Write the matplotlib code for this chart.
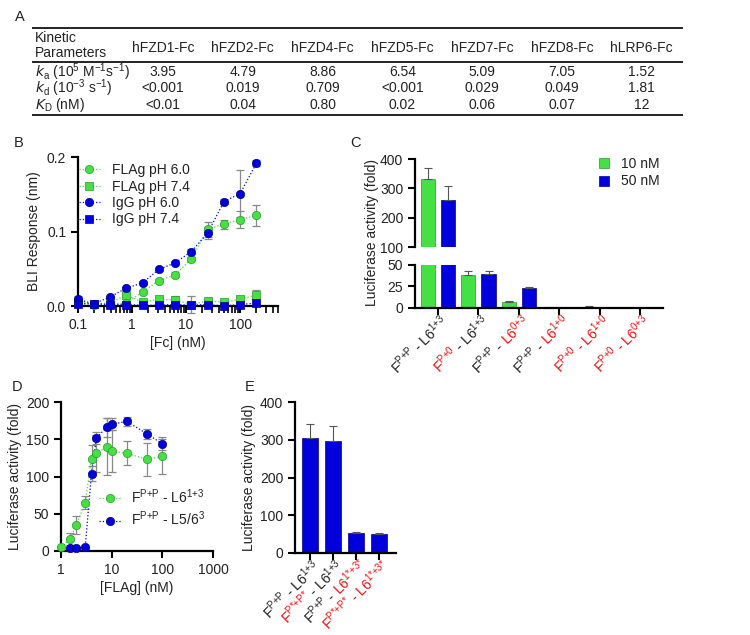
import numpy as np
import matplotlib
matplotlib.use('Agg')
import matplotlib.pyplot as plt
from matplotlib import transforms
from matplotlib.lines import Line2D
from matplotlib.patches import Patch

plt.rcParams['font.family'] = ['Liberation Sans', 'DejaVu Sans']
plt.rcParams['mathtext.default'] = 'regular'
plt.rcParams['font.size'] = 10
plt.rcParams['text.color'] = '#222222'
plt.rcParams['axes.labelcolor'] = '#222222'
plt.rcParams['xtick.color'] = 'black'
plt.rcParams['ytick.color'] = 'black'
plt.rcParams['xtick.labelcolor'] = '#222222'
plt.rcParams['ytick.labelcolor'] = '#222222'
plt.rcParams['axes.linewidth'] = 1.6

GREEN = '#44e044'
GREEN_EDGE = '#2a9a2a'
BLUE = '#0000dd'
BLUE_EDGE = '#000088'
RED = '#ee1111'
BLACK = '#222222'

# ---- panel A: kinetic table ----
table_cols = ['hFZD1-Fc', 'hFZD2-Fc', 'hFZD4-Fc', 'hFZD5-Fc', 'hFZD7-Fc', 'hFZD8-Fc', 'hLRP6-Fc']
row_labels = [r'$\mathit{k}_{a}$ (10$^{5}$ M$^{-1}$s$^{-1}$)',
              r'$\mathit{k}_{d}$ (10$^{-3}$ s$^{-1}$)',
              r'$\mathit{K}_{D}$ (nM)']
ka_vals = ['3.95', '4.79', '8.86', '6.54', '5.09', '7.05', '1.52']
kd_vals = ['<0.001', '0.019', '0.709', '<0.001', '0.029', '0.049', '1.81']
KD_vals = ['<0.01', '0.04', '0.80', '0.02', '0.06', '0.07', '12']

# ---- panel B: BLI response ----
fc_nm = [0.098, 0.195, 0.39, 0.78, 1.56, 3.13, 6.25, 12.5, 25, 50, 100, 200]
flag_ph60 = [0.004, 0.002, 0.003, 0.004, 0.019, 0.034, 0.042, 0.063, 0.103, 0.110, 0.116, 0.122]
flag_ph60_err = [0.002, 0.001, 0.002, 0.002, 0.002, 0.002, 0.003, 0.003, 0.010, 0.006, 0.011, 0.014]
flag_ph74 = [0.006, 0.003, 0.004, 0.015, 0.005, 0.009, 0.008, 0.002, 0.007, 0.005, 0.009, 0.015]
flag_ph74_err = [0.006, 0.001, 0.002, 0.003, 0.002, 0.002, 0.005, 0.012, 0.003, 0.002, 0.004, 0.007]
igg_ph60 = [0.009, 0.003, 0.012, 0.024, 0.031, 0.049, 0.058, 0.073, 0.098, 0.140, 0.151, 0.192]
igg_ph60_err = [0.004, 0.001, 0.002, 0.002, 0.002, 0.002, 0.002, 0.003, 0.008, 0.003, 0.031, 0.004]
igg_ph74 = [0.003, 0.003, 0.002, 0.002, 0.001, 0.001, 0.002, 0.001, 0.002, 0.000, 0.002, 0.004]

# ---- panel C: luciferase, broken axis ----
c_labels = [
    [(r'F$^{P{+}P}$ - L6$^{1{+}3}$', BLACK)],
    [(r'F$^{P{+}0}$', RED), (r' - L6$^{1{+}3}$', BLACK)],
    [(r'F$^{P{+}P}$ - ', BLACK), (r'L6$^{0{+}3}$', RED)],
    [(r'F$^{P{+}P}$ - ', BLACK), (r'L6$^{1{+}0}$', RED)],
    [(r'F$^{P{+}0}$ - L6$^{1{+}0}$', RED)],
    [(r'F$^{P{+}0}$ - L6$^{0{+}3}$', RED)],
]
c_10nm = [333, 38, 7, 0.5, 1.5, 0.3]
c_10nm_err = [35, 5, 1.2, 0.2, 0.4, 0.1]
c_50nm = [260, 39, 23, 0.3, 0.4, 0.2]
c_50nm_err = [47, 4.5, 1.5, 0.1, 0.1, 0.1]

# ---- panel D: dose response ----
d_x_l6 = [1, 1.5, 2, 3, 4, 5, 8, 10, 20, 50, 100]
d_l6 = [5, 16, 35, 65, 124, 131, 140, 134, 131, 123, 127]
d_l6_err = [1, 8, 12, 9, 18, 25, 38, 28, 16, 22, 23]
d_x_l56 = [1.5, 2, 3, 4, 5, 8, 10, 20, 50, 100]
d_l56 = [4, 4, 5, 104, 152, 166, 170, 174, 157, 144]
d_l56_err = [1, 1, 1, 10, 8, 13, 8, 6, 7, 9]

# ---- panel E ----
e_labels = [
    [(r'F$^{P{+}P}$ - L6$^{1{+}3}$', BLACK)],
    [(r'F$^{P{*}{+}P{*}}$', RED), (r' - L6$^{1{+}3}$', BLACK)],
    [(r'F$^{P{+}P}$ - ', BLACK), (r'L6$^{1{*}{+}3{*}}$', RED)],
    [(r'F$^{P{*}{+}P{*}}$ - L6$^{1{*}{+}3{*}}$', RED)],
]
e_vals = [305, 298, 53, 51]
e_err = [36, 39, 2, 2]

W, H = 750, 635
fig = plt.figure(figsize=(7.5, 6.35), dpi=100)


def fx(x):
    return x / W


def fy(y):
    return 1 - y / H


def px_axes(left, top, right, bottom):
    return fig.add_axes([fx(left), fy(bottom), (right - left) / W, (bottom - top) / H])


def prism_style(ax, bottom=True):
    for s in ['top', 'right']:
        ax.spines[s].set_visible(False)
    if not bottom:
        ax.spines['bottom'].set_visible(False)
        ax.tick_params(axis='x', bottom=False, labelbottom=False)
    ax.tick_params(which='both', direction='out', width=1.5, length=5)
    ax.tick_params(which='minor', width=1.2)


def text_width(s, size):
    r = fig.canvas.get_renderer()
    t = fig.text(0, 0, s + '|', fontsize=size)
    w = t.get_window_extent(r).width
    t.remove()
    t = fig.text(0, 0, '|', fontsize=size)
    w -= t.get_window_extent(r).width
    t.remove()
    return w


def colored_label(ax, xpos, pieces, dx=12, dy=-15, size=10):
    # rotated multi-colour tick label, right end anchored near the tick
    c = np.cos(np.deg2rad(45))
    full = ''.join(p for p, _ in pieces)
    total = text_width(full, size)
    start = 0.0
    for p, col in pieces:
        off = start - total
        tr = ax.get_xaxis_transform() + transforms.ScaledTranslation(
            (off * c + dx) / fig.dpi, (off * c + dy) / fig.dpi, fig.dpi_scale_trans)
        ax.text(xpos, 0, p, color=col, fontsize=size, rotation=45,
                rotation_mode='anchor', ha='left', va='baseline', transform=tr,
                clip_on=False)
        start += text_width(p, size)


# ---- A ----
fig.text(fx(15), fy(17), 'A', fontsize=10.5, ha='left', va='center')
for y in [28, 62, 115]:
    fig.add_artist(Line2D([fx(33), fx(682)], [fy(y), fy(y)], transform=fig.transFigure,
                          color=BLACK, lw=1.4))
fig.text(fx(35), fy(38), 'Kinetic', ha='left', va='center')
fig.text(fx(35), fy(53), 'Parameters', ha='left', va='center')
col_x = [163 + 79.8 * i for i in range(len(table_cols))]
for cx, name in zip(col_x, table_cols):
    fig.text(fx(cx), fy(48), name, ha='center', va='center')
for ry, lab, vals in zip([72, 88, 105], row_labels, [ka_vals, kd_vals, KD_vals]):
    fig.text(fx(35), fy(ry), lab, ha='left', va='center')
    for cx, v in zip(col_x, vals):
        fig.text(fx(cx), fy(ry), v, ha='center', va='center')

# ---- B ----
fig.text(fx(14), fy(143), 'B', fontsize=10.5, ha='left', va='center')
axB = px_axes(78, 157, 278, 306)
prism_style(axB)
axB.set_xscale('log')
axB.set_xlim(0.1, 500)
axB.set_ylim(0, 0.2)
axB.set_yticks([0, 0.1, 0.2])
axB.set_yticklabels(['0.0', '0.1', '0.2'])
axB.set_xticks([0.1, 1, 10, 100])
axB.set_xticklabels(['0.1', '1', '10', '100'])
axB.xaxis.set_minor_locator(matplotlib.ticker.LogLocator(base=10, subs=np.arange(2, 10), numticks=20))
axB.xaxis.set_minor_formatter(matplotlib.ticker.NullFormatter())

b_series = [
    (flag_ph60, flag_ph60_err, 'o', GREEN, GREEN_EDGE, 'FLAg pH 6.0'),
    (flag_ph74, flag_ph74_err, 's', GREEN, GREEN_EDGE, 'FLAg pH 7.4'),
    (igg_ph60, igg_ph60_err, 'o', BLUE, BLUE_EDGE, 'IgG pH 6.0'),
    (igg_ph74, None, 's', BLUE, BLUE_EDGE, 'IgG pH 7.4'),
]
handles = []
for vals, err, mk, col, ec, lab in b_series:
    axB.plot(fc_nm, vals, ':', color=col, lw=0.9, clip_on=False, zorder=3)
    if err is not None:
        axB.errorbar(fc_nm, vals, yerr=err, fmt='none', ecolor='#888888', elinewidth=0.9,
                     capsize=3, capthick=0.9, clip_on=False, zorder=3)
    axB.plot(fc_nm, vals, mk, color=col, mec=ec, mew=0.5, ms=6 if mk == 'o' else 5.6,
             clip_on=False, zorder=4)
    handles.append(Line2D([], [], ls=':', color=col, marker=mk, mfc=col, mec=ec, mew=0.5,
                          ms=6 if mk == 'o' else 5.6, lw=0.9, label=lab))
axB.legend(handles=handles, loc='upper left', bbox_to_anchor=(fx(79), fy(163)),
           bbox_transform=fig.transFigure, frameon=False, borderpad=0, borderaxespad=0,
           handlelength=1.5, handletextpad=0.9, labelspacing=0.18, fontsize=10)
axB.set_xlabel('[Fc] (nM)', labelpad=3)
axB.set_ylabel('BLI Response (nm)', labelpad=4)

# ---- C ----
fig.text(fx(350), fy(143), 'C', fontsize=10.5, ha='left', va='center')
axCt = px_axes(415, 159, 663, 247)
axCb = px_axes(415, 265, 663, 308)
prism_style(axCt, bottom=False)
prism_style(axCb)
cx = np.arange(len(c_10nm))
for ax in (axCt, axCb):
    ax.bar(cx - 0.25, c_10nm, 0.35, color=GREEN, edgecolor=GREEN_EDGE, lw=0.5,
           yerr=[np.zeros(len(cx)), c_10nm_err], capsize=3,
           error_kw=dict(ecolor='#555555', elinewidth=0.8, capthick=0.8))
    ax.bar(cx + 0.25, c_50nm, 0.35, color=BLUE, edgecolor=BLUE_EDGE, lw=0.5,
           yerr=[np.zeros(len(cx)), c_50nm_err], capsize=3,
           error_kw=dict(ecolor='#555555', elinewidth=0.8, capthick=0.8))
    ax.set_xlim(-0.57, 5.57)
axCt.set_ylim(100, 400)
axCt.set_yticks([100, 200, 300, 400])
axCb.set_ylim(0, 50)
axCb.set_yticks([0, 25, 50])
axCb.set_xticks(cx)
axCb.set_xticklabels([])
for i, pieces in enumerate(c_labels):
    colored_label(axCb, cx[i], pieces)
fig.text(fx(372), fy(233), 'Luciferase activity (fold)', rotation=90, ha='center', va='center')
axCt.legend(handles=[Patch(facecolor=GREEN, edgecolor=GREEN_EDGE, lw=0.5, label='10 nM'),
                     Patch(facecolor=BLUE, edgecolor=BLUE_EDGE, lw=0.5, label='50 nM')],
            loc='upper left', bbox_to_anchor=(fx(599), fy(157)), bbox_transform=fig.transFigure,
            frameon=False, borderpad=0, borderaxespad=0, handlelength=0.75, handleheight=0.75,
            handletextpad=0.8, labelspacing=0.25, fontsize=10)

# ---- D ----
fig.text(fx(12), fy(387), 'D', fontsize=10.5, ha='left', va='center')
axD = px_axes(61, 402, 213, 551)
prism_style(axD)
axD.set_xscale('log')
axD.set_xlim(1, 1000)
axD.set_ylim(0, 200)
axD.set_yticks([0, 50, 100, 150, 200])
axD.set_xticks([1, 10, 100, 1000])
axD.set_xticklabels(['1', '10', '100', '1000'])
axD.xaxis.set_minor_locator(matplotlib.ticker.NullLocator())
d_series = [
    (d_x_l6, d_l6, d_l6_err, GREEN, GREEN_EDGE, r'F$^{P{+}P}$ - L6$^{1{+}3}$'),
    (d_x_l56, d_l56, d_l56_err, BLUE, BLUE_EDGE, r'F$^{P{+}P}$ - L5/6$^{3}$'),
]
handles = []
for xs, vals, err, col, ec, lab in d_series:
    axD.plot(xs, vals, ':', color=col, lw=0.9, clip_on=False, zorder=3)
    axD.errorbar(xs, vals, yerr=err, fmt='none', ecolor='#888888', elinewidth=0.9,
                 capsize=3, capthick=0.9, clip_on=False, zorder=3)
    axD.plot(xs, vals, 'o', color=col, mec=ec, mew=0.5, ms=6, clip_on=False, zorder=4)
    handles.append(Line2D([], [], ls=':', color=col, marker='o', mfc=col, mec=ec, mew=0.5,
                          ms=6, lw=0.9, label=lab))
axD.legend(handles=handles, loc='upper left', bbox_to_anchor=(fx(99), fy(487)),
           bbox_transform=fig.transFigure, frameon=False, borderpad=0, borderaxespad=0,
           handlelength=1.6, handletextpad=0.7, labelspacing=0.3, fontsize=10)
axD.set_xlabel('[FLAg] (nM)', labelpad=3)
axD.set_ylabel('Luciferase activity (fold)', labelpad=3)

# ---- E ----
fig.text(fx(245), fy(387), 'E', fontsize=10.5, ha='left', va='center')
axE = px_axes(295, 402, 396, 553)
prism_style(axE)
ex = np.arange(len(e_vals))
axE.bar(ex, e_vals, 0.68, color=BLUE, edgecolor=BLUE_EDGE, lw=0.5,
        yerr=[np.zeros(len(ex)), e_err], capsize=3,
        error_kw=dict(ecolor='#555555', elinewidth=0.8, capthick=0.8))
axE.set_xlim(-0.65, 3.74)
axE.set_ylim(0, 400)
axE.set_yticks([0, 100, 200, 300, 400])
axE.set_xticks(ex)
axE.set_xticklabels([])
for i, pieces in enumerate(e_labels):
    colored_label(axE, ex[i], pieces)
axE.set_ylabel('Luciferase activity (fold)', labelpad=3)

fig.savefig('out.png', dpi=100)
